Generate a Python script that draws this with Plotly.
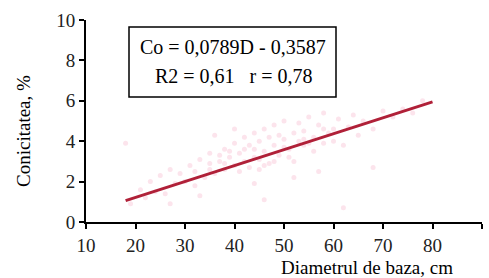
import plotly.graph_objects as go

# Scatter observations (estimated from the faint cloud)
obs_d = [18, 19, 21, 22, 23, 24, 25, 26, 27, 28, 29, 30, 31, 32, 32, 33, 34, 35, 35, 36,
         37, 38, 38, 39, 40, 40, 41, 42, 42, 43, 44, 44, 45, 45, 46, 46, 47, 48, 48, 49,
         50, 50, 51, 52, 52, 53, 54, 54, 55, 56, 56, 57, 58, 58, 59, 60, 61, 62, 63, 64,
         65, 66, 68, 70, 72, 74, 76, 78, 46, 62, 68, 40, 36, 52, 57, 44, 33, 27,
         39, 41, 43, 45, 47, 49, 51, 53, 55, 37, 35, 42, 48, 50, 54, 58, 60, 44, 46, 38]
obs_c = [3.9, 0.9, 1.6, 1.2, 2.0, 1.5, 2.3, 1.4, 2.6, 1.9, 2.4, 2.0, 2.8, 1.8, 2.5, 3.1, 2.2, 2.9, 3.4, 2.4,
         3.0, 3.6, 2.6, 3.2, 2.8, 3.9, 3.4, 3.0, 4.2, 2.7, 3.6, 4.4, 3.1, 4.0, 3.5, 4.6, 2.9, 3.8, 4.8, 3.3,
         4.1, 5.0, 3.6, 4.4, 3.0, 4.9, 3.8, 4.5, 5.2, 3.5, 4.2, 4.8, 3.9, 5.4, 4.4, 4.6, 5.1, 3.8, 4.7, 5.3,
         4.3, 5.0, 4.6, 5.5, 5.2, 5.6, 5.4, 6.0, 1.1, 0.7, 2.7, 4.6, 4.3, 2.2, 2.5, 1.9, 1.3, 0.9,
         3.5, 2.5, 3.8, 2.6, 4.2, 4.3, 3.2, 4.0, 3.9, 3.3, 2.6, 3.6, 3.0, 3.7, 4.1, 4.6, 4.0, 3.2, 2.8, 2.9]

# Regression line endpoints: Co = 0,0789D - 0,3587
line_d = [18, 80]
line_c = [1.06, 5.95]

x_ticks = [10, 20, 30, 40, 50, 60, 70, 80, 90]
y_ticks = [0, 2, 4, 6, 8, 10]

eq_text = "Co = 0,0789D - 0,3587"
stat_text = "R2 = 0,61   r = 0,78"
x_title = "Diametrul de baza, cm"
y_title = "Conicitatea, %"

FONT = "Liberation Serif"

fig = go.Figure()
fig.add_trace(go.Scatter(x=obs_d, y=obs_c, mode="markers",
                         marker=dict(size=5, color="rgba(240,120,160,0.2)", line=dict(width=0)),
                         showlegend=False, hoverinfo="skip"))
fig.add_trace(go.Scatter(x=line_d, y=line_c, mode="lines",
                         line=dict(color="#b02038", width=3),
                         showlegend=False))

fig.update_layout(
    width=489, height=278,
    margin=dict(l=86, r=7, t=20, b=56),
    paper_bgcolor="white", plot_bgcolor="white",
    font=dict(family=FONT, size=19, color="black"),
    xaxis=dict(range=[10, 90], tickvals=x_ticks, showgrid=False, zeroline=False,
               showline=True, linecolor="black", linewidth=2,
               ticks="outside", ticklen=5, tickcolor="black", tickwidth=2,
               tickfont=dict(family=FONT, size=19, color="#222")),
    yaxis=dict(range=[0, 10], tickvals=y_ticks, showgrid=False, zeroline=False,
               showline=True, linecolor="black", linewidth=2,
               ticks="outside", ticklen=5, tickcolor="black", tickwidth=2,
               tickfont=dict(family=FONT, size=19, color="#222")),
    shapes=[dict(type="rect", xref="paper", yref="paper",
                 x0=(129 - 86) / 396, x1=(336 - 86) / 396,
                 y0=(222 - 97) / 202, y1=(222 - 27) / 202,
                 line=dict(color="black", width=1.5), fillcolor="white")],
    annotations=[
        dict(text=eq_text, xref="paper", yref="paper", x=(232.5 - 86) / 396, y=(222 - 47) / 202,
             showarrow=False, font=dict(family=FONT, size=20), xanchor="center", yanchor="middle"),
        dict(text=stat_text, xref="paper", yref="paper", x=(234 - 86) / 396, y=(222 - 76) / 202,
             showarrow=False, font=dict(family=FONT, size=20), xanchor="center", yanchor="middle"),
        dict(text=x_title, xref="paper", yref="paper", x=(367 - 86) / 396, y=-(267 - 222) / 202,
             showarrow=False, font=dict(family=FONT, size=19), xanchor="center", yanchor="middle"),
        dict(text=y_title, xref="paper", yref="paper", x=-(86 - 23) / 396, y=(222 - 131) / 202,
             showarrow=False, textangle=-90, font=dict(family=FONT, size=19),
             xanchor="center", yanchor="middle"),
    ],
)

fig.write_html("out.html", config={"displayModeBar": False},
               post_script="document.body.style.margin='0';document.body.style.overflow='hidden';")
